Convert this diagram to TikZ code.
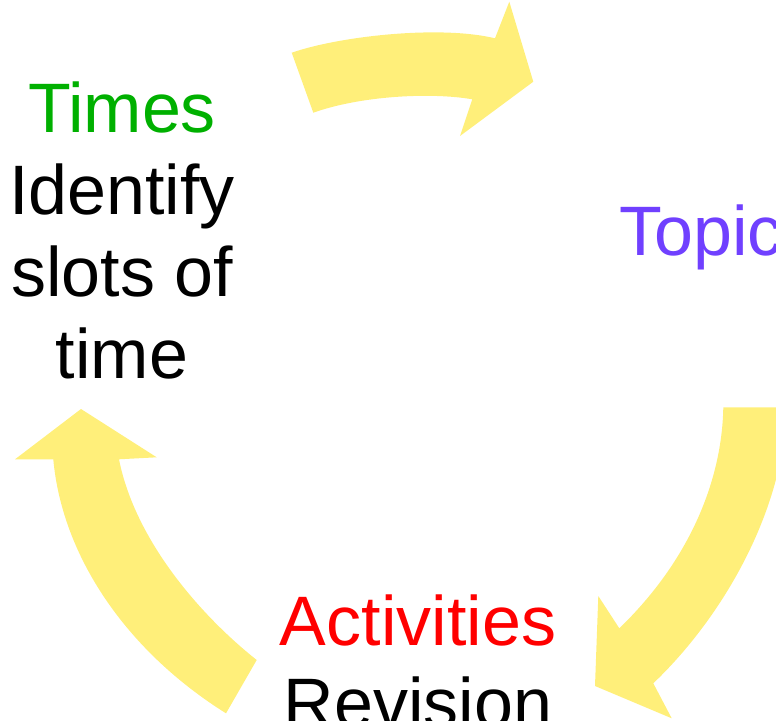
\documentclass[tikz,border=0pt]{standalone}
\usepackage{fontspec}
\setmainfont{Liberation Sans}
\usepackage{xcolor}
\usetikzlibrary{positioning}
\definecolor{cycyellow}{RGB}{255,239,122}
\definecolor{timegreen}{RGB}{0,176,0}
\definecolor{topicpurple}{RGB}{112,64,255}
\definecolor{actred}{RGB}{255,0,0}

\begin{document}
\begin{tikzpicture}[
  x=1pt, y=-1pt,
  stagetext/.style={font=\fontsize{70}{82}\selectfont, align=center, inner sep=0pt},
  band/.style={fill=cycyellow, draw=none}
]
\useasboundingbox (0,0) rectangle (776,720);
\clip (0,0) rectangle (776,720);

% top arrow: Times -> Topics
\fill[band] (291.7,52.7) .. controls (340,36) and (440,25) .. (495,38.3)
  -- (509.3,1.7) -- (533.3,81.7) -- (460,136) -- (472.3,99.3)
  .. controls (430,92) and (360,96) .. (313.3,112.7) -- cycle;
% right arrow: Topics -> Activities
\fill[band] (800,407.3) -- (723.3,407.3)
  .. controls (722,480) and (690,560) .. (619.3,628.3)
  -- (598.3,596) -- (595,686) -- (671.7,718.3) -- (653.3,683.3)
  .. controls (730,610) and (786,500) .. (786,407.3) -- cycle;
% left arrow: Activities -> Times
\fill[band] (256.7,660) .. controls (200,615) and (135,540) .. (119,459.3)
  -- (156.7,457.3) -- (81,409) -- (15,459.3) -- (53.3,459.3)
  .. controls (62,555) and (125,650) .. (226,713.3) -- cycle;

\node[stagetext, anchor=base] (times) at (122,378)
  {\textcolor{timegreen}{Times}\\Identify\\slots of\\time};
\node[stagetext, anchor=base west, text=topicpurple] (topics) at (619,255) {Topic};
\node[stagetext, anchor=base] (activities) at (418,727)
  {\textcolor{actred}{Activities}\\Revision};
\end{tikzpicture}
\end{document}
